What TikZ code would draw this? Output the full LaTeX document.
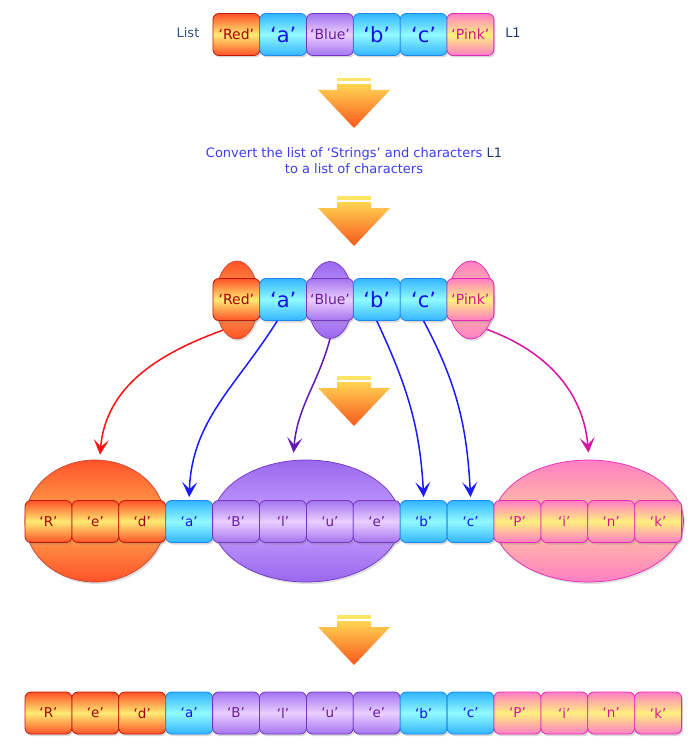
\documentclass[tikz,border=0pt]{standalone}
\usepackage{fontspec}
\setmainfont{DejaVu Sans}
\usetikzlibrary{arrows.meta,shapes.geometric,shadows}

\definecolor{redtop}{HTML}{FF5228}
\definecolor{redmid}{HTML}{FFEA72}
\definecolor{redline}{HTML}{C01800}
\definecolor{redtxt}{HTML}{A80000}
\definecolor{redblobmid}{HTML}{FFAE52}
\definecolor{bluetop}{HTML}{32B4FF}
\definecolor{bluemid}{HTML}{92FAFF}
\definecolor{blueline}{HTML}{1E88F0}
\definecolor{bluetxt}{HTML}{1010F0}
\definecolor{purptop}{HTML}{A474F0}
\definecolor{purpmid}{HTML}{EACFFF}
\definecolor{purpline}{HTML}{7434C4}
\definecolor{purptxt}{HTML}{6A1CA4}
\definecolor{purpblobtop}{HTML}{9A68EE}
\definecolor{purpblobmid}{HTML}{C6A2FF}
\definecolor{pinktop}{HTML}{FF7EC4}
\definecolor{pinkmid}{HTML}{FFF07E}
\definecolor{pinkline}{HTML}{E42AB4}
\definecolor{pinktxt}{HTML}{DC1094}
\definecolor{pinkblobmid}{HTML}{FFCC9C}
\definecolor{navy}{HTML}{1F3A6E}
\definecolor{listcol}{HTML}{34528A}
\definecolor{convcol}{HTML}{3C3CF0}
\definecolor{barcol}{HTML}{FFE566}
\definecolor{droptop}{HTML}{FFD452}
\definecolor{dropbot}{HTML}{F8581C}
\definecolor{curvered}{HTML}{FF1010}
\definecolor{curveblue}{HTML}{1A1AFF}
\definecolor{curvepurp}{HTML}{6418B0}
\definecolor{curvepink}{HTML}{D414A8}

\tikzset{
  cell/.style={draw, rounded corners=6pt, line width=0.8pt, inner sep=0pt,
    minimum width=46.9pt, minimum height=42pt,
    drop shadow={shadow xshift=1.5pt,shadow yshift=-2pt,opacity=0.3}},
  redcell/.style={cell, draw=redline, top color=redtop, bottom color=redtop, middle color=redmid, text=redtxt},
  bluecell/.style={cell, draw=blueline, top color=bluetop, bottom color=bluetop, middle color=bluemid, text=bluetxt},
  purpcell/.style={cell, draw=purpline, top color=purptop, bottom color=purptop, middle color=purpmid, text=purptxt},
  pinkcell/.style={cell, draw=pinkline, top color=pinktop, bottom color=pinktop, middle color=pinkmid, text=pinktxt},
  redstr/.style={redcell, font=\fontsize{14}{16}\selectfont},
  purpstr/.style={purpcell, font=\fontsize{14}{16}\selectfont},
  pinkstr/.style={pinkcell, font=\fontsize{14}{16}\selectfont},
  bluechr/.style={bluecell, font=\fontsize{21}{23}\selectfont},
  redc/.style={redcell, font=\fontsize{13.5}{15}\selectfont},
  bluec/.style={bluecell, font=\fontsize{13.5}{15}\selectfont},
  purpc/.style={purpcell, font=\fontsize{13.5}{15}\selectfont},
  pinkc/.style={pinkcell, font=\fontsize{13.5}{15}\selectfont},
  blob/.style={ellipse, draw, line width=0.7pt, inner sep=0pt,
    drop shadow={shadow xshift=1.5pt,shadow yshift=-2pt,opacity=0.25}},
  redblob/.style={blob, draw=redline!80, top color=redtop, bottom color=redtop, middle color=redblobmid},
  purpblob/.style={blob, draw=purpline, top color=purpblobtop, bottom color=purpblobtop, middle color=purpblobmid},
  pinkblob/.style={blob, draw=pinkline, top color=pinktop, bottom color=pinktop, middle color=pinkblobmid},
  lbl/.style={font=\fontsize{13}{15}\selectfont},
  curve/.style={line width=1.5pt, -{Stealth[length=15pt,width=15pt,inset=7pt]}}
}

\begin{document}
\begin{tikzpicture}[x=1pt,y=-1pt]
  \useasboundingbox (0,0) rectangle (698,746);

  % the list L1
  \node[lbl,text=listcol] (lst) at (188,33) {List};
  \foreach \txt/\sty [count=\i] in {{‘Red’}/redstr,{‘a’}/bluechr,{‘Blue’}/purpstr,{‘b’}/bluechr,{‘c’}/bluechr,{‘Pink’}/pinkstr}
    \node[\sty] (t\i) at ({189.6+46.8*\i},34.5) {\txt};
  \node[lbl,text=navy] (lone) at (513,33) {L1};

  % down arrows
  \foreach \y in {78,196,376,615} {
    \fill[barcol] (337,\y) rectangle (371,\y+3.5);
    \shade[top color=droptop,bottom color=dropbot] (337,\y+6) -- (371,\y+6) -- (371,\y+12)
      -- (390,\y+12) -- (354,\y+50) -- (318,\y+12) -- (337,\y+12) -- cycle;
  }

  \node[lbl,text=convcol,align=center] (conv) at (354,161)
    {Convert the list of ‘Strings’ and characters \textcolor{navy}{L1}\\[1pt]to a list of characters};

  % strings marked
  \node[redblob,minimum width=43pt,minimum height=78pt] (mred) at (237,300) {};
  \node[purpblob,minimum width=45pt,minimum height=77pt] (mpurp) at (330,300) {};
  \node[pinkblob,minimum width=46pt,minimum height=78pt] (mpink) at (471,300) {};
  \foreach \txt/\sty [count=\i] in {{‘Red’}/redstr,{‘a’}/bluechr,{‘Blue’}/purpstr,{‘b’}/bluechr,{‘c’}/bluechr,{‘Pink’}/pinkstr}
    \node[\sty] (m\i) at ({189.6+46.8*\i},299.5) {\txt};

  % split into characters
  \node[redblob,minimum width=140pt,minimum height=122pt] (bigred) at (95,521) {};
  \node[purpblob,minimum width=188pt,minimum height=122pt] (bigpurp) at (306.5,521) {};
  \node[pinkblob,minimum width=190pt,minimum height=122pt] (bigpink) at (588.5,521) {};
  \foreach \txt/\sty [count=\i] in {{‘R’}/redc,{‘e’}/redc,{‘d’}/redc,{‘a’}/bluec,{‘B’}/purpc,{‘l’}/purpc,{‘u’}/purpc,{‘e’}/purpc,{‘b’}/bluec,{‘c’}/bluec,{‘P’}/pinkc,{‘i’}/pinkc,{‘n’}/pinkc,{‘k’}/pinkc}
    \node[\sty] (s\i) at ({1.55+46.9*\i},521.5) {\txt};

  \draw[curve,curvered] (mred.-115) to[out=-160,in=85] ([xshift=5pt,yshift=5pt]bigred.north);
  \draw[curve,curveblue] ([xshift=-6pt]m2.south) to[out=-122,in=88] ([yshift=3pt]s4.north);
  \draw[curve,curvepurp] (mpurp.south) to[out=-105,in=85] ([xshift=-13pt,yshift=7pt]bigpurp.north);
  \draw[curve,curveblue] (m4.south) to[out=-65,in=93] ([yshift=3pt]s9.north);
  \draw[curve,curveblue] (m5.south) to[out=-62,in=93] ([yshift=3pt]s10.north);
  \draw[curve,curvepink] (mpink.-62) to[out=-20,in=95] ([yshift=7pt]bigpink.north);

  % result
  \foreach \txt/\sty [count=\i] in {{‘R’}/redc,{‘e’}/redc,{‘d’}/redc,{‘a’}/bluec,{‘B’}/purpc,{‘l’}/purpc,{‘u’}/purpc,{‘e’}/purpc,{‘b’}/bluec,{‘c’}/bluec,{‘P’}/pinkc,{‘i’}/pinkc,{‘n’}/pinkc,{‘k’}/pinkc}
    \node[\sty] (b\i) at ({1.55+46.9*\i},713) {\txt};
\end{tikzpicture}
\end{document}
